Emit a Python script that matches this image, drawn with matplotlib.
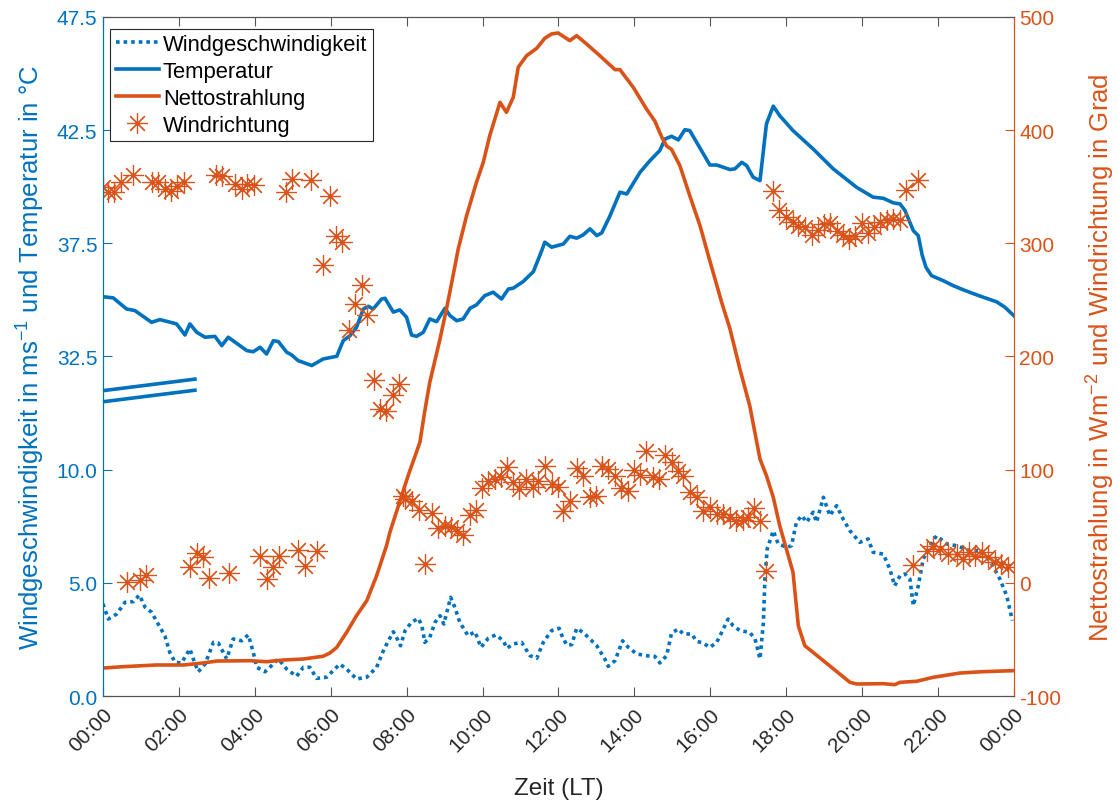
import numpy as np
import matplotlib
matplotlib.use("Agg")
import matplotlib.pyplot as plt

plt.rcParams['font.family'] = ['Liberation Sans', 'DejaVu Sans']
plt.rcParams['mathtext.default'] = 'regular'

BLUE = '#0072BD'
ORANGE = '#D95319'

# ---------------- data (time in hours since 00:00 LT) ----------------
temp_t = [0.00, 0.27, 0.62, 0.84, 1.28, 1.50, 1.94, 2.16, 2.29, 2.47, 2.69, 2.95, 3.13, 3.30,
          3.79, 3.96, 4.14, 4.31, 4.49, 4.62, 4.84, 4.97, 5.14, 5.50, 5.80, 6.16, 6.33, 6.51,
          6.68, 6.86, 6.99, 7.12, 7.34, 7.43, 7.65, 7.82, 8.00, 8.13, 8.26, 8.44, 8.61, 8.79,
          9.01, 9.14, 9.32, 9.49, 9.67, 9.84, 10.06, 10.28, 10.50, 10.68, 10.81, 11.07, 11.34,
          11.56, 11.64, 11.82, 12.13, 12.30, 12.48, 12.65, 12.83, 13.01, 13.14, 13.36, 13.62,
          13.80, 14.15, 14.41, 14.67, 14.81, 14.98, 15.16, 15.33, 15.46, 15.99, 16.17, 16.52,
          16.65, 16.83, 16.96, 17.13, 17.31, 17.48, 17.66, 17.83, 18.18, 18.71, 19.24, 19.85,
          20.29, 20.56, 20.82, 21.00, 21.13, 21.35, 21.48, 21.58, 21.68, 21.83, 22.14, 22.40,
          22.66, 22.88, 23.19, 23.54, 23.76, 24.00]
temp_c = [35.14, 35.09, 34.60, 34.53, 34.01, 34.13, 33.94, 33.45, 33.94, 33.57, 33.35, 33.39,
          32.98, 33.35, 32.76, 32.71, 32.91, 32.61, 33.20, 33.16, 32.69, 32.57, 32.32, 32.10,
          32.39, 32.51, 33.20, 33.42, 33.79, 34.60, 34.72, 34.60, 35.04, 35.07, 34.46, 34.56,
          34.23, 33.45, 33.39, 33.57, 34.16, 34.04, 34.63, 34.31, 34.08, 34.16, 34.63, 34.78,
          35.19, 35.34, 35.04, 35.48, 35.52, 35.81, 36.25, 37.18, 37.55, 37.33, 37.47, 37.81,
          37.73, 37.87, 38.14, 37.84, 37.96, 38.72, 39.76, 39.68, 40.64, 41.15, 41.60, 42.11,
          42.23, 42.07, 42.52, 42.48, 40.96, 40.96, 40.76, 40.79, 41.08, 40.93, 40.42, 40.27,
          42.78, 43.56, 43.14, 42.48, 41.67, 40.79, 39.98, 39.54, 39.49, 39.29, 39.24, 38.95,
          38.06, 37.84, 37.00, 36.45, 36.07, 35.85, 35.63, 35.45, 35.31, 35.12, 34.92, 34.68,
          34.30]

rad_t = [0.00, 0.53, 1.41, 2.12, 2.64, 3.00, 3.87, 4.31, 4.75, 5.28, 5.80, 5.98, 6.16, 6.42,
         6.68, 6.95, 7.21, 7.47, 7.56, 7.87, 8.04, 8.35, 8.48, 8.61, 8.88, 9.05, 9.19, 9.36,
         9.58, 9.84, 10.02, 10.19, 10.46, 10.63, 10.81, 10.94, 11.16, 11.43, 11.64, 11.82,
         11.99, 12.30, 12.48, 12.74, 13.09, 13.49, 13.62, 13.97, 14.32, 14.54, 14.72, 14.85,
         14.98, 15.20, 15.46, 15.73, 15.95, 16.30, 16.52, 16.78, 17.04, 17.31, 17.48, 17.66,
         17.83, 18.18, 18.32, 18.49, 18.98, 19.68, 19.86, 20.56, 20.86, 21.00, 21.44, 21.87,
         22.58, 23.19, 24.00]
rad_w = [-75.3, -74.1, -72.6, -72.6, -70.8, -69.1, -68.8, -69.7, -68.2, -67.3, -64.9, -62.0,
         -57.0, -43.7, -29.0, -15.8, 6.3, 32.8, 44.7, 77.0, 94.7, 124.2, 152.0, 177.2, 215.5,
         242.0, 265.6, 295.0, 324.4, 353.9, 371.6, 395.1, 424.6, 415.8, 429.1, 455.6, 465.8,
         472.4, 481.2, 485.0, 485.9, 479.1, 483.5, 476.2, 465.8, 453.5, 453.5, 437.9, 418.7,
         408.0, 394.0, 386.0, 383.0, 368.6, 342.1, 315.6, 289.1, 247.9, 224.3, 189.0, 156.5,
         109.4, 94.7, 75.6, 50.5, 9.3, -37.9, -55.5, -68.8, -87.9, -89.4, -89.1, -90.0, -87.9,
         -87.0, -83.5, -79.7, -78.5, -77.6]

wind_t = [0.00, 0.14, 0.36, 0.58, 0.80, 0.96, 1.11, 1.28, 1.50, 1.63, 1.76, 1.90, 2.07, 2.29,
          2.38, 2.51, 2.69, 2.91, 3.04, 3.26, 3.43, 3.65, 3.83, 3.96, 4.05, 4.27, 4.44, 4.62,
          4.84, 5.10, 5.28, 5.45, 5.63, 5.89, 6.24, 6.42, 6.68, 6.95, 7.21, 7.40, 7.52, 7.65,
          7.78, 7.84, 7.96, 8.13, 8.31, 8.40, 8.48, 8.61, 8.75, 8.88, 8.98, 9.07, 9.16, 9.27,
          9.40, 9.62, 9.80, 9.96, 10.15, 10.35, 10.55, 10.64, 10.81, 11.03, 11.25, 11.43, 11.60,
          11.82, 12.02, 12.11, 12.22, 12.35, 12.48, 12.65, 12.83, 13.01, 13.22, 13.31, 13.49,
          13.69, 13.84, 14.06, 14.32, 14.54, 14.67, 14.85, 14.98, 15.16, 15.29, 15.51, 15.64,
          15.81, 15.99, 16.17, 16.30, 16.47, 16.60, 16.78, 17.04, 17.18, 17.31, 17.40, 17.44,
          17.50, 17.66, 17.79, 18.01, 18.14, 18.27, 18.41, 18.54, 18.71, 18.80, 18.98, 19.15,
          19.33, 19.50, 19.68, 19.94, 20.16, 20.29, 20.56, 20.73, 20.86, 21.00, 21.13, 21.26,
          21.35, 21.48, 21.61, 21.79, 21.96, 22.23, 22.49, 22.84, 23.10, 23.37, 23.63, 23.81,
          23.96]
wind_ms = [4.07, 3.40, 3.62, 4.14, 4.17, 4.46, 3.92, 3.70, 3.04, 2.66, 1.93, 1.49, 1.46, 2.08,
           1.64, 1.07, 1.41, 2.37, 2.34, 1.64, 2.52, 2.44, 2.70, 1.93, 1.27, 1.07, 1.34, 1.64,
           1.19, 0.87, 1.27, 1.27, 0.78, 0.83, 1.41, 1.19, 0.75, 0.83, 1.27, 2.05, 2.44, 2.84,
           2.44, 2.22, 2.89, 3.26, 3.43, 3.11, 2.37, 2.59, 3.26, 3.55, 3.18, 3.77, 4.36, 3.92,
           3.26, 2.66, 2.84, 2.15, 2.55, 2.70, 2.44, 2.11, 2.30, 2.37, 1.78, 1.67, 2.37, 2.89,
           2.99, 2.59, 2.25, 2.27, 2.99, 2.81, 2.52, 2.22, 1.64, 1.31, 1.56, 2.44, 2.15, 1.86,
           1.78, 1.75, 1.46, 1.78, 2.78, 2.96, 2.74, 2.74, 2.42, 2.34, 2.15, 2.37, 2.81, 3.40,
           3.11, 2.89, 2.81, 2.52, 1.64, 3.26, 5.17, 6.50, 7.30, 6.72, 6.57, 6.64, 7.68, 7.97,
           7.68, 8.12, 7.68, 8.78, 7.97, 8.41, 7.82, 7.30, 6.79, 6.94, 6.35, 6.27, 5.61, 4.87,
           5.32, 5.39, 5.17, 3.99, 4.87, 6.05, 6.64, 7.08, 6.72, 6.64, 6.42, 6.42, 5.98, 5.17,
           4.43, 3.33]

dir_t = [0.01, 0.14, 0.29, 0.47, 0.80, 1.28, 1.46, 1.63, 1.79, 1.96, 2.14, 2.98, 3.13, 3.48,
         3.65, 3.80, 3.99, 4.81, 4.97, 5.47, 5.98, 6.14, 6.30, 5.80, 6.82, 6.64, 6.95, 6.49,
         7.14, 7.81, 7.65, 7.30, 7.46,
         0.62, 0.97, 1.13, 2.29, 2.47, 2.64, 2.80, 3.32, 4.14, 4.31, 4.47, 4.64, 5.14, 5.32, 5.65,
         7.91, 7.96, 8.13, 8.33, 8.48, 8.66, 8.83, 9.01, 9.17, 9.33, 9.48, 9.67, 9.83, 9.98,
         10.15, 10.33, 10.48, 10.65, 10.81, 10.97, 11.14, 11.32, 11.47, 11.64, 11.82, 11.99,
         12.13, 12.30, 12.48, 12.64, 12.83, 12.99, 13.16, 13.31, 13.49, 13.66, 13.82, 13.99,
         14.15, 14.32, 14.50, 14.66, 14.81, 14.98, 15.16, 15.29, 15.47, 15.64, 15.81, 15.99,
         16.17, 16.34, 16.52, 16.69, 16.87, 17.00, 17.15, 17.31, 17.48,
         17.66, 17.82, 17.99, 18.17, 18.32, 18.49, 18.67, 18.84, 18.99, 19.15, 19.33, 19.49,
         19.66, 19.81, 19.99, 20.16, 20.31, 20.47, 20.65, 20.82, 21.00, 21.15, 21.48,
         21.35, 21.70, 21.86, 22.05, 22.27, 22.49, 22.66, 22.82, 22.97, 23.15, 23.32, 23.50,
         23.65, 23.85]
dir_deg = [349.5, 345.7, 345.1, 354.0, 360.4, 354.0, 354.5, 348.0, 346.5, 351.0, 354.5, 360.4,
           359.3, 352.5, 348.0, 352.5, 351.8, 345.7, 356.9, 356.3, 341.6, 306.8, 300.9, 280.9,
           263.2, 246.4, 236.7, 223.4, 179.5, 175.7, 166.0, 153.6, 151.6,
           1.0, 2.8, 7.2, 13.7, 26.4, 22.6, 4.0, 8.4, 23.5, 3.4, 13.7, 24.0, 29.3, 14.6, 28.4,
           77.0, 74.1, 72.6, 64.6, 16.6, 61.5, 48.2, 50.5, 49.6, 46.1, 42.5, 60.0, 64.6, 83.5,
           90.3, 91.8, 93.3, 102.1, 88.8, 82.9, 91.8, 84.4, 90.3, 103.5, 87.3, 84.4,
           63.8, 72.6, 101.2, 94.7, 75.6, 76.5, 103.5, 100.6, 94.7, 83.5, 81.4, 100.0,
           95.3, 116.8, 93.3, 91.8, 113.0, 106.5, 99.1, 94.2, 80.0, 75.6, 63.8, 66.8,
           60.8, 60.8, 57.9, 54.9, 55.8, 57.9, 65.9, 54.9, 10.7,
           346.5, 329.7, 323.0, 318.6, 315.1, 314.2, 307.4, 312.1, 317.1, 317.7, 311.2, 307.4,
           303.9, 306.8, 318.0, 309.2, 314.2, 318.6, 320.9, 321.5, 320.9, 347.4, 356.3,
           15.8, 28.4, 32.8, 29.9, 25.5, 25.5, 21.1, 27.0, 24.0, 27.5, 22.6, 18.1, 16.6, 13.7]

# broken left axis: wind speed 0..10, temperature 32.5..47.5 shifted down
temp_offset = 17.5
left_ticks_wind = [0.0, 5.0, 10.0]
left_ticks_temp = [32.5, 37.5, 42.5, 47.5]
right_ticks = [-100, 0, 100, 200, 300, 400, 500]
x_ticks = list(range(0, 25, 2))
x_labels = [f"{h % 24:02d}:00" for h in x_ticks]

# ---------------- figure ----------------
fig = plt.figure(figsize=(11.18, 8.03), dpi=100)
ax = fig.add_axes([0.0921, 0.132, 0.8148, 0.8456])
ax2 = ax.twinx()

temp_plot = np.array(temp_c) - temp_offset
l_wind, = ax.plot(wind_t, wind_ms, color=BLUE, lw=2.6, linestyle=(0, (1, 1.1)),
                  dash_capstyle='butt', label='Windgeschwindigkeit')
l_temp, = ax.plot(temp_t, temp_plot, color=BLUE, lw=2.6, label='Temperatur')

# axis break marker
ax.plot([0, 2.47], [13.0, 13.52], color=BLUE, lw=2.6, solid_capstyle='butt', clip_on=False)
ax.plot([0, 2.47], [13.49, 14.01], color=BLUE, lw=2.6, solid_capstyle='butt', clip_on=False)

l_rad, = ax2.plot(rad_t, rad_w, color=ORANGE, lw=2.6, label='Nettostrahlung')
l_dir, = ax2.plot(dir_t, dir_deg, linestyle='none', marker=(8, 2, 0), markersize=15,
                  markeredgewidth=0.85, color=ORANGE, label='Windrichtung')

ax.set_xlim(0, 24)
ax.set_ylim(0, 30)
ax2.set_ylim(-100, 500)

ax.set_xticks(x_ticks)
ax.set_xticklabels(x_labels, rotation=45, ha='right', rotation_mode='anchor', fontsize=15)
lt = left_ticks_wind + [t - temp_offset for t in left_ticks_temp]
ax.set_yticks(lt)
ax.set_yticklabels([f"{v:.1f}" for v in left_ticks_wind + left_ticks_temp], fontsize=15)
ax2.set_yticks(right_ticks)
ax2.set_yticklabels([str(v) for v in right_ticks], fontsize=15)

ax.tick_params(axis='x', direction='in', length=6.5, width=0.8, color='#555555',
               top=True, labelcolor='#262626', pad=6)
ax.tick_params(axis='y', direction='in', length=6.5, width=0.8, colors=BLUE, pad=4)
ax2.tick_params(axis='y', direction='in', length=6.5, width=0.8, colors=ORANGE, pad=4)

for a in (ax, ax2):
    a.spines['top'].set_color('#555555')
    a.spines['bottom'].set_color('#555555')
    a.spines['left'].set_color(BLUE)
    a.spines['right'].set_color(ORANGE)
    for s in a.spines.values():
        s.set_linewidth(0.8)

ax.set_xlabel('Zeit (LT)', fontsize=17.5, color='#262626', labelpad=16)
ax.set_ylabel('Windgeschwindigkeit in ms$^{-1}$ und Temperatur in °C', fontsize=18.5,
              color=BLUE, labelpad=7)
ax2.set_ylabel('Nettostrahlung in Wm$^{-2}$ und Windrichtung in Grad', fontsize=18.5,
               color=ORANGE, labelpad=17)

leg = ax2.legend(handles=[l_wind, l_temp, l_rad, l_dir], loc='upper left',
                 bbox_to_anchor=(0.008, 0.983), borderaxespad=0, fontsize=15.8,
                 fancybox=False, framealpha=1, edgecolor='#262626', handlelength=1.95,
                 handletextpad=0.2, labelspacing=0.27, borderpad=0.25)
leg.get_frame().set_linewidth(0.8)

fig.savefig('out.png', dpi=100)
